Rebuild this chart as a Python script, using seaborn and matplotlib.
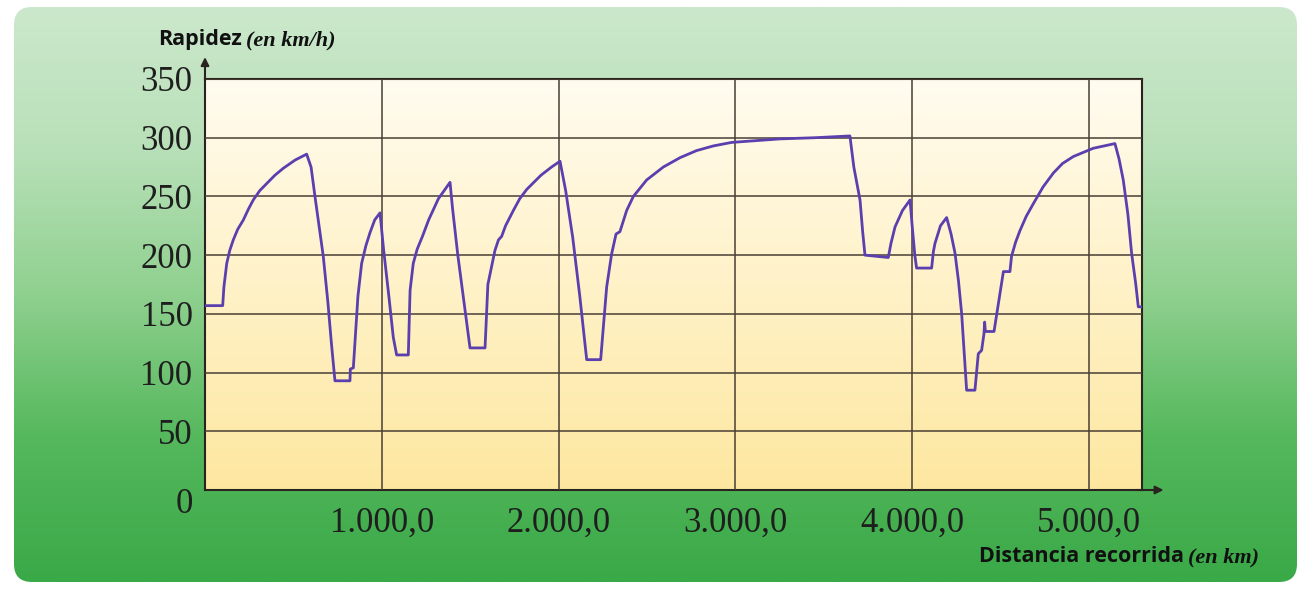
import numpy as np
import seaborn as sns
import matplotlib.pyplot as plt
from matplotlib.colors import LinearSegmentedColormap
from matplotlib.patches import FancyBboxPatch

# distance (km) and speed (km/h)
distancia = [0, 100, 107, 123, 140, 160, 185, 217, 245, 273, 310, 349, 395, 443, 510, 575,
             600, 622, 645, 669, 695, 715, 735, 820, 822, 839,
             850, 865, 886, 910, 933, 960, 990,
             1010, 1040, 1065, 1084, 1150,
             1160, 1178, 1200, 1230, 1265, 1320, 1386,
             1400, 1430, 1465, 1499, 1584,
             1600, 1640, 1660, 1678, 1700, 1744, 1780, 1820, 1900, 1960, 2008,
             2040, 2080, 2120, 2159, 2238,
             2272, 2300, 2325, 2347, 2385, 2423, 2498, 2592, 2687, 2780, 2875, 2979,
             3252, 3450, 3648,
             3670, 3705, 3720, 3733, 3865,
             3880, 3903, 3945, 3988,
             4000, 4015, 4025, 4110,
             4120, 4129, 4160, 4195,
             4220, 4242, 4262, 4280, 4295, 4308, 4355, 4374, 4393, 4406, 4410, 4414,
             4463, 4516, 4553,
             4562, 4585, 4610, 4645, 4686, 4740, 4799, 4850, 4912, 5024, 5147,
             5170, 5194, 5220, 5241, 5265, 5279, 5307]
rapidez = [157, 157, 173, 193, 204, 213, 222, 230, 239, 247, 255, 261, 268, 274, 281, 286,
           275, 250, 225, 199, 160, 125, 93, 93, 103, 104,
           130, 165, 193, 208, 219, 230, 236,
           205, 165, 130, 115, 115,
           170, 193, 205, 216, 230, 248, 262,
           240, 200, 160, 121, 121,
           175, 204, 213, 216, 225, 238, 248, 256, 268, 275, 280,
           255, 215, 165, 111, 111,
           173, 201, 218, 220, 238, 250, 264, 275, 283, 289, 293, 296,
           299, 300, 301.5,
           275, 247, 220, 200, 198,
           210, 224, 238, 247,
           225, 200, 189, 189,
           203, 210, 225, 232,
           218, 202, 178, 150, 115, 85, 85, 116, 119, 133, 143, 135,
           135, 186, 186,
           199, 211, 221, 233, 244, 258, 270, 278, 284, 291, 295,
           282, 264, 235, 202, 175, 156, 156]

x_ticks = [1000, 2000, 3000, 4000, 5000]
x_labels = ["1.000,0", "2.000,0", "3.000,0", "4.000,0", "5.000,0"]
y_ticks = [50, 100, 150, 200, 250, 300, 350]

sns.set_style("white")
plt.rcParams['font.family'] = ['Liberation Serif', 'DejaVu Serif']

W, H = 1306, 589
fig = plt.figure(figsize=(W / 100, H / 100), dpi=100)
fig.patch.set_facecolor("white")

# green panel in the background
bg = fig.add_axes([0, 0, 1, 1])
bg.set_xlim(0, W)
bg.set_ylim(H, 0)
bg.axis("off")
green = LinearSegmentedColormap.from_list(
    "g", ["#cce8cc", "#b8e0b8", "#8fd08f", "#55b85c", "#3aa948"])
grad = np.linspace(0, 1, 256).reshape(-1, 1)
im = bg.imshow(grad, cmap=green, aspect="auto", extent=[14, 1297, 582, 7])
panel = FancyBboxPatch((14, 7), 1283, 575, boxstyle="round,pad=0,rounding_size=18",
                       transform=bg.transData, facecolor="none", edgecolor="none")
bg.add_patch(panel)
im.set_clip_path(panel)

# main axes
ax = fig.add_axes([205 / W, 1 - 490 / H, (1142 - 205) / W, (490 - 79) / H])
cream = LinearSegmentedColormap.from_list("c", ["#fffcf0", "#fff2c8", "#fde7a0"])
ax.imshow(grad, cmap=cream, aspect="auto", extent=[0, 5300, 0, 350], zorder=0)

sns.lineplot(x=distancia, y=rapidez, ax=ax, color="#5b3fae", linewidth=2,
             zorder=3, estimator=None, sort=False)

ax.set_xlim(0, 5300)
ax.set_ylim(0, 350)
ax.set_xticks(x_ticks)
ax.set_xticklabels(x_labels)
ax.set_yticks(y_ticks)
ax.grid(True, color="#4a3f35", linewidth=1.3, alpha=0.85)
ax.set_axisbelow(False)
for s in ax.spines.values():
    s.set_color("#2a2420")
    s.set_linewidth(1.5)
ax.tick_params(axis="both", direction="out", length=6, width=1.3, color="#2a2420",
               labelsize=25, labelcolor="#1e1e1e")
ax.tick_params(axis="x", pad=6)
ax.tick_params(axis="y", pad=3)
ax.set_xlabel("")
ax.set_ylabel("")

# "0" at the origin
ax.text(-0.013, 0.005, "0", transform=ax.transAxes, ha="right", va="top",
        fontsize=25, color="#1e1e1e")

# axis arrows
ax.annotate("", xy=(0, 1.06), xytext=(0, 0.99), xycoords="axes fraction",
            arrowprops=dict(arrowstyle="-|>", color="#2a2420", lw=1.5,
                            mutation_scale=12), annotation_clip=False)
ax.annotate("", xy=(1.026, 0), xytext=(0.99, 0), xycoords="axes fraction",
            arrowprops=dict(arrowstyle="-|>", color="#2a2420", lw=1.5,
                            mutation_scale=12), annotation_clip=False)


# axis titles: bold sans word followed by italic serif part
def title(x, y, main, extra):
    t = fig.text(x / W, 1 - y / H, main, fontsize=15.5, fontweight="bold",
                 family=["Open Sans", "DejaVu Sans"], va="center", color="#111111")
    fig.canvas.draw()
    bb = t.get_window_extent()
    fig.text((bb.x1 + 4) / W, 1 - y / H, extra, fontsize=16, fontweight="bold",
             style="italic", va="center", color="#111111")


title(158, 40, "Rapidez", "(en km/h)")
title(979, 557, "Distancia recorrida", "(en km)")

fig.savefig("out.png", dpi=100)
